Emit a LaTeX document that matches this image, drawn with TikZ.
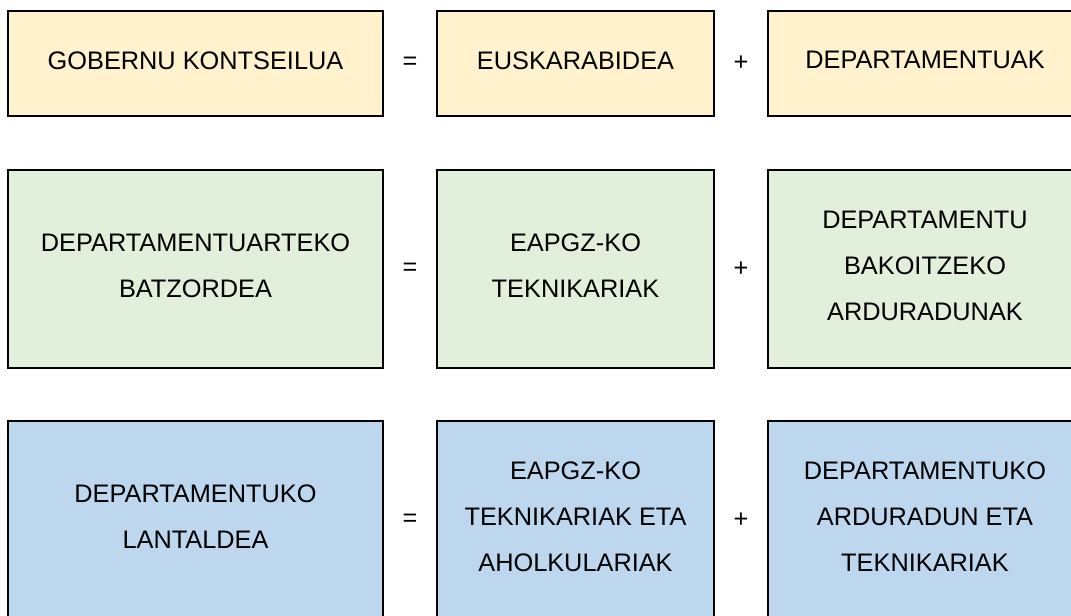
\documentclass[tikz,border=0pt]{standalone}
\usepackage{fontspec}
\setmainfont{Liberation Sans}
\usetikzlibrary{positioning}
\definecolor{horia}{HTML}{FFF2CC}
\definecolor{berdea}{HTML}{E2EFDA}
\definecolor{urdina}{HTML}{BDD7EE}
\tikzset{
  organo/.style={draw=black, line width=1.5pt, align=center, inner sep=0pt,
    text depth=5pt, font=\fontsize{19pt}{34.5pt}\selectfont},
  ikur/.style={font=\fontsize{19pt}{34.5pt}\selectfont},
  zabal/.style={minimum width=281.25pt},
  erdi/.style={minimum width=207.75pt},
  eskuin/.style={minimum width=235.5pt}
}
\begin{document}
\begin{tikzpicture}[x=0.75pt, y=-0.75pt]
  \clip (0,0) rectangle (1071,615);
  \node[organo, zabal, fill=horia, minimum height=78.75pt] (gobernu) at (195.5,63.5)
     {GOBERNU KONTSEILUA};
  \node[organo, erdi, fill=horia, minimum height=78.75pt, right=39pt of gobernu] (euskarabidea)
     {EUSKARABIDEA};
  \node[organo, eskuin, fill=horia, minimum height=78.75pt, right=39pt of euskarabidea] (departamentuak)
     {DEPARTAMENTUAK};

  \node[organo, zabal, fill=berdea, minimum height=148.5pt, below=39pt of gobernu] (batzordea)
     {DEPARTAMENTUARTEKO\\BATZORDEA};
  \node[organo, erdi, fill=berdea, minimum height=148.5pt, right=39pt of batzordea] (teknikariak)
     {EAPGZ-KO\\TEKNIKARIAK};
  \node[organo, eskuin, fill=berdea, minimum height=148.5pt, right=39pt of teknikariak] (bakoitzeko)
     {DEPARTAMENTU\\BAKOITZEKO\\ARDURADUNAK};

  \node[organo, zabal, fill=urdina, minimum height=148.5pt, below=38.25pt of batzordea] (lantaldea)
     {DEPARTAMENTUKO\\LANTALDEA};
  \node[organo, erdi, fill=urdina, minimum height=148.5pt, right=39pt of lantaldea] (aholkulariak)
     {EAPGZ-KO\\TEKNIKARIAK ETA\\AHOLKULARIAK};
  \node[organo, eskuin, fill=urdina, minimum height=148.5pt, right=39pt of aholkulariak] (arduradunak)
     {DEPARTAMENTUKO\\ARDURADUN ETA\\TEKNIKARIAK};

  \path (gobernu.east) -- node[ikur] (berdin1) {=} (euskarabidea.west);
  \path (euskarabidea.east) -- node[ikur] (gehi1) {+} (departamentuak.west);
  \path (batzordea.east) -- node[ikur] (berdin2) {=} (teknikariak.west);
  \path (teknikariak.east) -- node[ikur] (gehi2) {+} (bakoitzeko.west);
  \path (lantaldea.east) -- node[ikur] (berdin3) {=} (aholkulariak.west);
  \path (aholkulariak.east) -- node[ikur] (gehi3) {+} (arduradunak.west);
\end{tikzpicture}
\end{document}
